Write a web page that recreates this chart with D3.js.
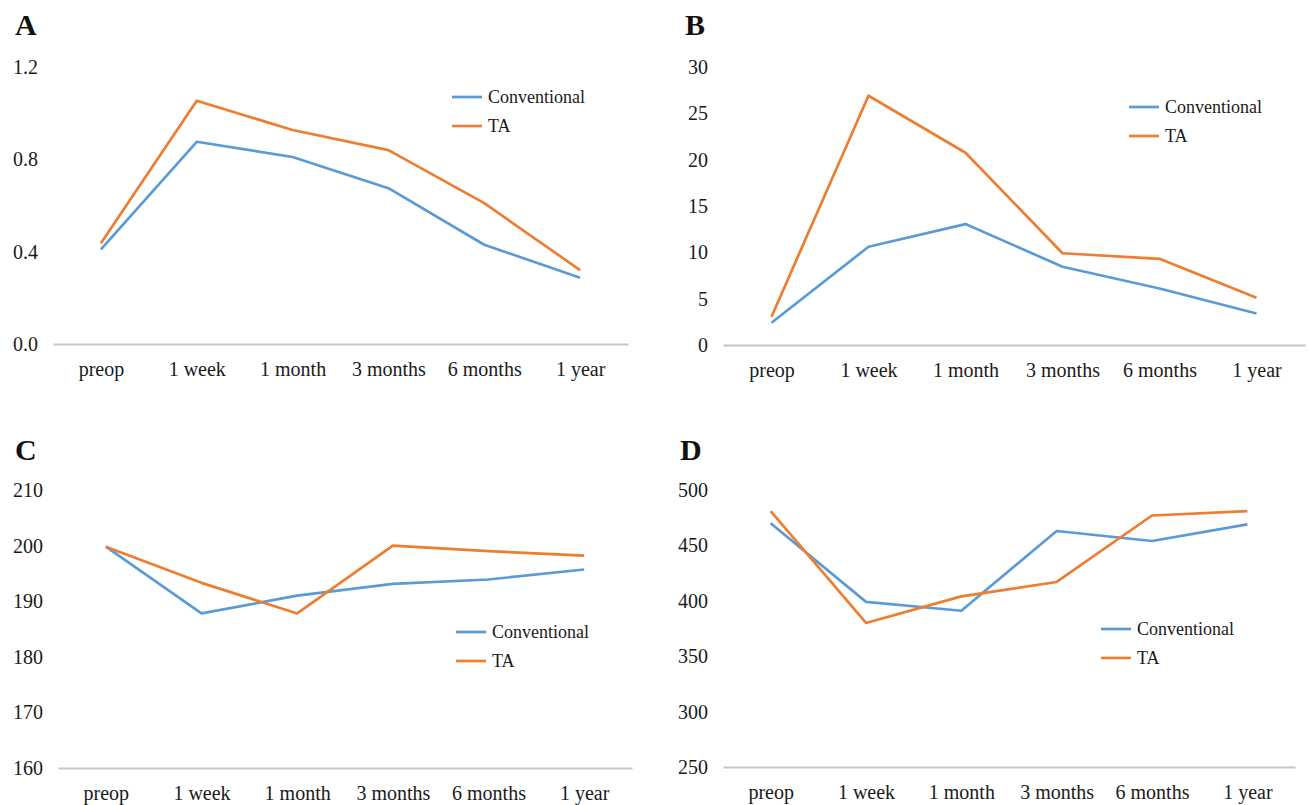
<!DOCTYPE html>
<html>
<head>
<meta charset="utf-8">
<script src="https://cdn.jsdelivr.net/npm/d3@7"></script>
<style>
  body { margin: 0; background: #fff; }
  svg { display: block; font-family: "Times New Roman", "Liberation Serif", serif; }
</style>
</head>
<body>
<div id="container"></div>
<script>
let width = 1309;
let height = 805;

// shared categories + series names
let categories = ["preop", "1 week", "1 month", "3 months", "6 months", "1 year"];
let seriesNames = ["Conventional", "TA"];
let seriesColors = ["#5B9BD5", "#ED7D31"];

// panel A
let convA = [0.41, 0.876, 0.81, 0.675, 0.43, 0.287];
let taA = [0.436, 1.054, 0.927, 0.84, 0.61, 0.32];
let ticksA = [0, 0.4, 0.8, 1.2];

// panel B
let convB = [2.4, 10.6, 13.05, 8.45, 6.1, 3.4];
let taB = [3.05, 26.9, 20.75, 9.9, 9.3, 5.1];
let ticksB = [0, 5, 10, 15, 20, 25, 30];

// panel C
let convC = [199.8, 187.8, 191.0, 193.1, 193.9, 195.7];
let taC = [199.8, 193.3, 187.8, 200.0, 199.0, 198.2];
let ticksC = [160, 170, 180, 190, 200, 210];

// panel D
let convD = [470, 399, 391, 463, 454, 469];
let taD = [481, 380, 404, 417, 477, 481];
let ticksD = [250, 300, 350, 400, 450, 500];

let svg = d3.select("#container")
  .append("svg")
  .attr("width", width)
  .attr("height", height);

let panels = [
  { label: "A", conv: convA, ta: taA, ticks: ticksA, fmt: d3.format(".1f"),
    x0: 53, x1: 628, yTop: 67, yBot: 344, lx: 452, ly: 97, labX: 15, labY: 35 },
  { label: "B", conv: convB, ta: taB, ticks: ticksB, fmt: d3.format("d"),
    x0: 723, x1: 1305, yTop: 67, yBot: 345, lx: 1129, ly: 107, labX: 685, labY: 35 },
  { label: "C", conv: convC, ta: taC, ticks: ticksC, fmt: d3.format("d"),
    x0: 58, x1: 632, yTop: 490, yBot: 768, lx: 456, ly: 632, labX: 15, labY: 460 },
  { label: "D", conv: convD, ta: taD, ticks: ticksD, fmt: d3.format("d"),
    x0: 723, x1: 1295, yTop: 490, yBot: 767, lx: 1101, ly: 629, labX: 680, labY: 460 }
];

function drawPanel(p) {
  let g = svg.append("g");

  let x = d3.scalePoint()
    .domain(categories)
    .range([p.x0, p.x1])
    .padding(0.5);

  let y = d3.scaleLinear()
    .domain(d3.extent(p.ticks))
    .range([p.yBot, p.yTop]);

  // y labels (no axis line)
  let yAxis = g.append("g")
    .attr("transform", `translate(${p.x0 - 15},0)`)
    .call(d3.axisLeft(y).tickValues(p.ticks).tickFormat(p.fmt).tickSize(0).tickPadding(0));
  yAxis.select(".domain").remove();
  yAxis.selectAll("text")
    .style("font-size", "20px")
    .style("font-family", "'Times New Roman', 'Liberation Serif', serif")
    .attr("fill", "#1a1a1a");

  // x axis
  let xAxis = g.append("g")
    .attr("transform", `translate(0,${p.yBot})`)
    .call(d3.axisBottom(x).tickSize(0).tickSizeOuter(0).tickPadding(18));
  xAxis.select(".domain")
    .attr("stroke", "#c6c6c6")
    .attr("stroke-width", 2);
  xAxis.selectAll("text")
    .style("font-size", "20px")
    .style("font-family", "'Times New Roman', 'Liberation Serif', serif")
    .attr("fill", "#1a1a1a");

  let line = d3.line()
    .x((d, i) => x(categories[i]))
    .y(d => y(d));

  [p.conv, p.ta].forEach((vals, k) => {
    g.append("path")
      .datum(vals)
      .attr("d", line)
      .attr("fill", "none")
      .attr("stroke", seriesColors[k])
      .attr("stroke-width", 2.7)
      .attr("stroke-linejoin", "round");
  });

  // legend
  seriesNames.forEach((name, k) => {
    let ly = p.ly + k * 29;
    g.append("line")
      .attr("x1", p.lx).attr("x2", p.lx + 30)
      .attr("y1", ly).attr("y2", ly)
      .attr("stroke", seriesColors[k])
      .attr("stroke-width", 2.7);
    g.append("text")
      .attr("x", p.lx + 36)
      .attr("y", ly)
      .attr("dy", "0.35em")
      .style("font-size", "18px")
      .style("font-family", "'Times New Roman', 'Liberation Serif', serif")
      .attr("fill", "#1a1a1a")
      .text(name);
  });

  // panel letter
  g.append("text")
    .attr("x", p.labX)
    .attr("y", p.labY)
    .style("font-size", "30px")
    .style("font-weight", "bold")
    .attr("fill", "#111")
    .text(p.label);
}

panels.forEach(drawPanel);
</script>
</body>
</html>
